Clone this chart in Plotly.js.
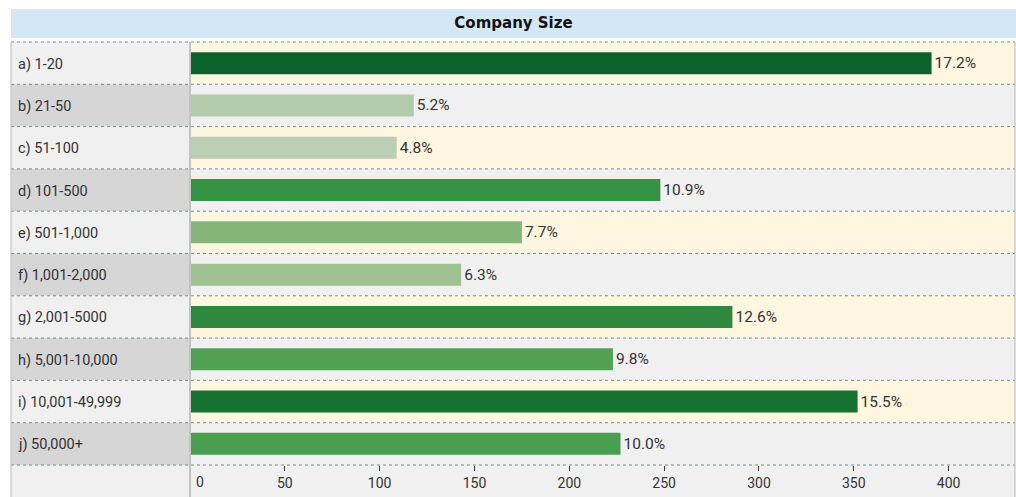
<!DOCTYPE html>
<html>
<head>
<meta charset="utf-8">
<script src="https://cdn.plot.ly/plotly-3.0.1.min.js"></script>
<style>html,body{margin:0;padding:0;background:#fff;}#chart{width:1016px;height:497px;}</style>
</head>
<body>
<div id="chart"></div>
<script>
// ---- data ----
var categories = ["a) 1-20","b) 21-50","c) 51-100","d) 101-500","e) 501-1,000","f) 1,001-2,000","g) 2,001-5000","h) 5,001-10,000","i) 10,001-49,999","j) 50,000+"];
var counts = [391, 118, 109, 248, 175, 143, 286, 223, 352, 227];
var percentLabels = ["17.2%","5.2%","4.8%","10.9%","7.7%","6.3%","12.6%","9.8%","15.5%","10.0%"];
var barColors = ["#0a6329","#b3cbaa","#bccfb5","#359444","#84b478","#a0c292","#2e893e","#52a052","#177232","#4a9e4f"];
var tickValues = [0,50,100,150,200,250,300,350,400];
var tickLabels = ["","50","100","150","200","250","300","350","400"];
var chartTitle = "Company Size";

// ---- layout geometry ----
var W = 1016, H = 497, ML = 190, MR = 1, MT = 42, MB = 32;
var plotW = W - ML - MR, plotH = H - MT - MB;
var leftX = -(ML - 11) / plotW;      // left edge of label column (paper)
var labelX = -(ML - 16) / plotW;     // label text start (paper)
var botY = -MB / plotH;              // bottom of figure (paper)
var font = "Roboto, Noto Sans, sans-serif";

var shapes = [];
var annotations = [];
var n = categories.length;
for (var i = 0; i < n; i++) {
  shapes.push({type:"rect", xref:"paper", yref:"y", x0:0, x1:1, y0:i-0.5, y1:i+0.5,
    fillcolor: (i % 2 === 0) ? "#fff6df" : "#f0f0f0", line:{width:0}, layer:"below"});
  shapes.push({type:"rect", xref:"paper", yref:"y", x0:leftX, x1:0, y0:i-0.5, y1:i+0.5,
    fillcolor: (i % 2 === 0) ? "#f0f0f0" : "#d6d6d6", line:{width:0}, layer:"below"});
  annotations.push({xref:"paper", yref:"y", x:labelX, y:categories[i], text:categories[i],
    xanchor:"left", yanchor:"middle", yshift:-1, showarrow:false, font:{family:font, size:14.5, color:"#333"}});
}
// bottom axis band
shapes.push({type:"rect", xref:"paper", yref:"paper", x0:leftX, x1:1, y0:botY, y1:0,
  fillcolor:"#f0f0f0", line:{width:0}, layer:"below"});
// title band
shapes.push({type:"rect", xref:"paper", yref:"paper", x0:leftX, x1:(W - ML)/plotW, y0:(plotH + MT - 38)/plotH, y1:(plotH + MT - 9)/plotH,
  fillcolor:"#d4e7f6", line:{width:0}, layer:"below"});
// row separators
for (var k = 0; k <= n; k++) {
  shapes.push({type:"line", xref:"paper", yref:"paper", x0:leftX, x1:1, y0:k/n, y1:k/n,
    line:{color:"#6f8f96", width:1, dash:"dot"}, layer:"above"});
}
// vertical borders
shapes.push({type:"line", xref:"paper", yref:"paper", x0:leftX, x1:leftX, y0:botY, y1:1, line:{color:"#bdbdbd", width:1}});
shapes.push({type:"line", xref:"paper", yref:"paper", x0:0, x1:0, y0:botY, y1:1, line:{color:"#c4c4c4", width:2}});
shapes.push({type:"line", xref:"paper", yref:"paper", x0:1, x1:1, y0:botY, y1:1, line:{color:"#b5b5b5", width:1}});

// zero tick label, left aligned
annotations.push({xref:"x", yref:"paper", x:tickValues[0], y:(-17)/plotH, text:String(tickValues[0]),
  xanchor:"left", yanchor:"middle", xshift:4, showarrow:false, font:{family:font, size:14, color:"#333"}});

var trace = {
  type:"bar", orientation:"h",
  y: categories, x: counts,
  marker:{color: barColors, line:{width:0}},
  width: 0.52,
  text: percentLabels, textposition:"outside", cliponaxis:false,
  textfont:{family:font, size:15.5, color:"#333"},
  hoverinfo:"skip"
};

var layout = {
  width: W, height: H,
  margin:{l:ML, r:MR, t:MT, b:MB, pad:0},
  paper_bgcolor:"#ffffff", plot_bgcolor:"#f0f0f0",
  showlegend:false,
  title:{text:"<b>" + chartTitle + "</b>", font:{family:"DejaVu Sans, Verdana, sans-serif", size:15, color:"#111"},
    xref:"container", yref:"container", x:513.5/W, y:1 - 23/H, xanchor:"center", yanchor:"middle"},
  xaxis:{range:[0, 435], tickvals:tickValues, ticktext:tickLabels, ticks:"outside", ticklen:5, tickwidth:1, tickcolor:"#333",
    showgrid:false, zeroline:false, showline:false, tickfont:{family:font, size:14, color:"#333"}, fixedrange:true},
  yaxis:{type:"category", categoryorder:"array", categoryarray:categories, range:[n-0.5, -0.5],
    showticklabels:false, showgrid:false, zeroline:false, showline:false, ticks:"", fixedrange:true},
  bargap:0.48,
  shapes: shapes,
  annotations: annotations
};

Plotly.newPlot("chart", [trace], layout, {displayModeBar:false, staticPlot:true});
</script>
</body>
</html>
